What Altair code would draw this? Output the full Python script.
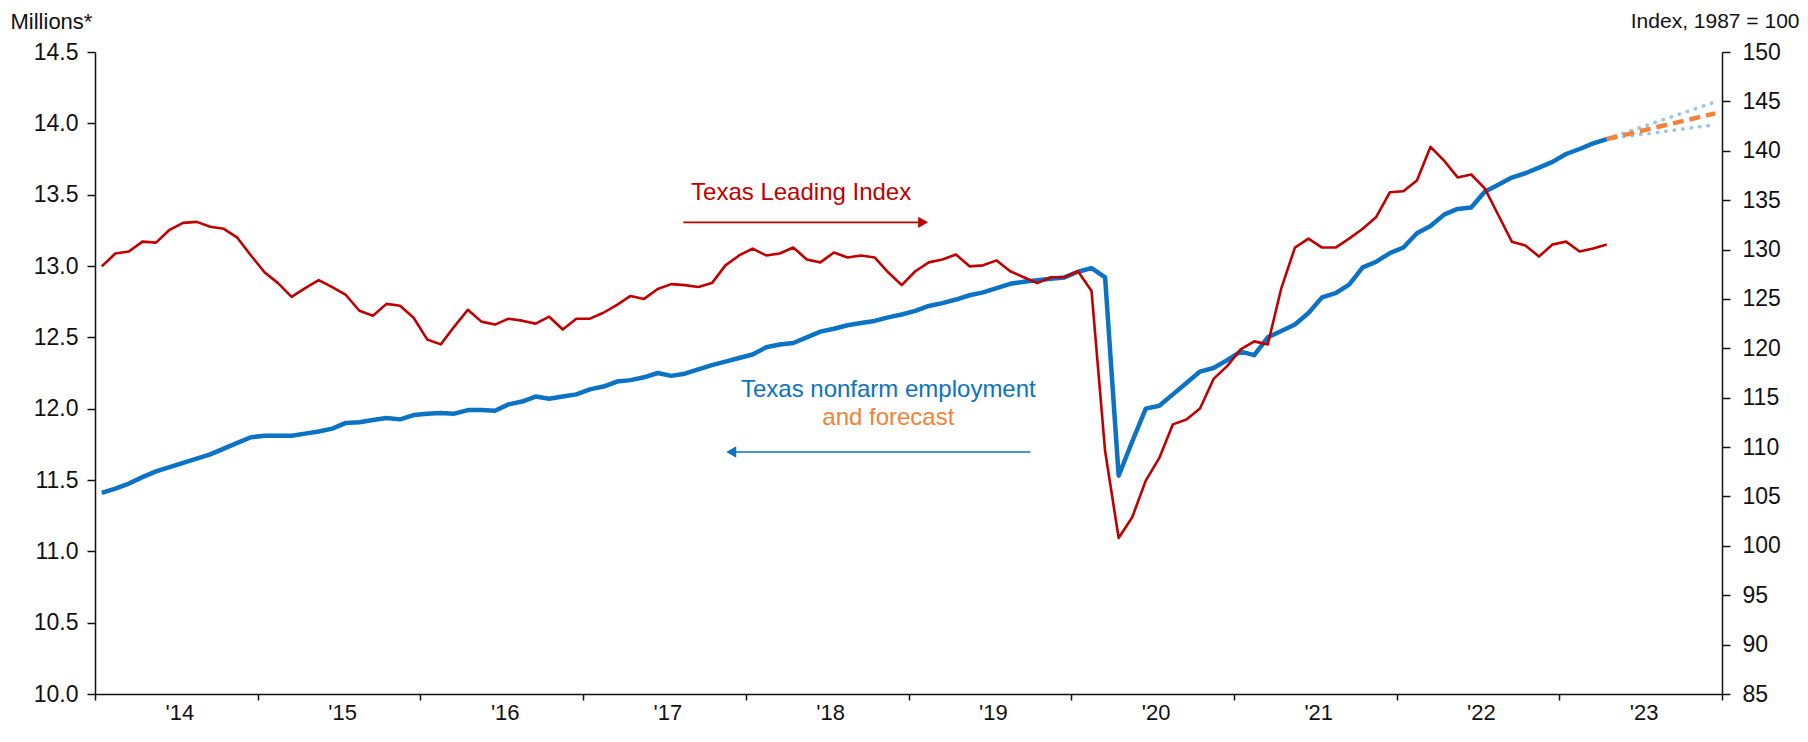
import altair as alt
import pandas as pd

# ---------------- data ----------------
# Texas nonfarm employment, millions, Jan 2014 .. Apr 2023 (monthly)
emp = [
    11.41, 11.44, 11.475, 11.52, 11.56, 11.59, 11.62, 11.65, 11.68, 11.72, 11.76, 11.80,
    11.81, 11.81, 11.81, 11.825, 11.84, 11.86, 11.90, 11.905, 11.92, 11.935, 11.925, 11.955,
    11.965, 11.97, 11.965, 11.99, 11.99, 11.985, 12.03, 12.05, 12.085, 12.07, 12.085, 12.10,
    12.135, 12.155, 12.19, 12.20, 12.22, 12.25, 12.23, 12.245, 12.275, 12.305, 12.33, 12.355,
    12.38, 12.43, 12.45, 12.46, 12.50, 12.54, 12.56, 12.585, 12.60, 12.615, 12.64, 12.66,
    12.685, 12.72, 12.74, 12.765, 12.795, 12.815, 12.845, 12.875, 12.89, 12.90, 12.91, 12.92,
    12.96, 12.985, 12.92, 11.53, 11.77, 12.00, 12.02, 12.10, 12.18, 12.26, 12.285, 12.34,
    12.40, 12.375, 12.50, 12.545, 12.59, 12.67, 12.78, 12.81, 12.87, 12.99, 13.03, 13.09,
    13.13, 13.23, 13.28, 13.36, 13.40, 13.41, 13.52, 13.57, 13.62, 13.65, 13.69, 13.73,
    13.785, 13.82, 13.86, 13.89,
]
# Texas Leading Index, 1987 = 100, Jan 2014 .. Apr 2023 (monthly)
tli = [
    128.3, 129.6, 129.8, 130.8, 130.7, 132.0, 132.7, 132.8, 132.3, 132.1, 131.2, 129.4,
    127.7, 126.6, 125.2, 126.1, 126.9, 126.2, 125.4, 123.8, 123.3, 124.5, 124.3, 123.1,
    120.9, 120.4, 122.2, 123.9, 122.7, 122.4, 123.0, 122.8, 122.5, 123.2, 121.9, 123.0,
    123.0, 123.6, 124.4, 125.3, 125.0, 126.0, 126.5, 126.4, 126.2, 126.6, 128.4, 129.4,
    130.1, 129.4, 129.6, 130.2, 129.0, 128.7, 129.7, 129.2, 129.4, 129.2, 127.7, 126.4,
    127.8, 128.7, 129.0, 129.5, 128.3, 128.4, 128.9, 127.8, 127.2, 126.6, 127.2, 127.2,
    127.8, 125.8, 109.6, 100.8, 102.9, 106.6, 108.9, 112.3, 112.8, 113.9, 116.9, 118.2,
    119.9, 120.7, 120.4, 126.1, 130.2, 131.1, 130.2, 130.2, 131.1, 132.1, 133.3, 135.8,
    135.9, 137.0, 140.4, 139.0, 137.3, 137.6, 136.2, 133.5, 130.8, 130.4, 129.3, 130.5,
    130.8, 129.8, 130.1, 130.5,
]
# Employment forecast (start / end) with band
fc_month = ["2023-04", "2023-12"]
fc_mid = [13.89, 14.07]
fc_hi = [13.89, 14.15]
fc_lo = [13.89, 13.99]

year_ticks = list(range(2014, 2025))
left_ticks = [10.0, 10.5, 11.0, 11.5, 12.0, 12.5, 13.0, 13.5, 14.0, 14.5]
right_ticks = list(range(85, 151, 5))

# ---------------- styling ----------------
FONT = "Liberation Sans"
RED = "#C00000"
BLUE = "#0B72C4"
ORANGE = "#F0823A"
LIGHTBLUE = "#9CC3E5"
INK = "#111111"

W, H = 1627, 642
TICK_FS = 23
ANN_FS = 24


def dec_year(ts):
    return ts.year + (ts.month - 0.5) / 12.0


months = pd.date_range("2014-01-01", periods=len(emp), freq="MS")
df = pd.DataFrame({"t": [dec_year(m) for m in months], "emp": emp, "tli": tli})
fc = pd.DataFrame({
    "t": [dec_year(pd.Timestamp(m + "-01")) for m in fc_month],
    "mid": fc_mid, "hi": fc_hi, "lo": fc_lo,
})

# annotation placement (data coordinates)
labels = pd.DataFrame({
    "text": ["Texas Leading Index", "Texas nonfarm employment", "and forecast"],
    "t": [2018.34, 2018.876, 2018.876],
    "v": [13.51, 12.131, 11.938],
    "c": [RED, BLUE, ORANGE],
})
arrows = pd.DataFrame({
    "t": [2017.616, 2017.911],
    "t2": [2019.090, 2019.749],
    "v": [13.306, 11.696],
    "c": [RED, BLUE],
})
heads = pd.DataFrame({
    "t": [2019.090, 2017.911],
    "v": [13.306, 11.696],
    "shape": ["triangle-right", "triangle-left"],
    "c": [RED, BLUE],
})

x_axis = alt.Axis(
    values=year_ticks,
    labelExpr="datum.value < 2024 ? \"'\" + substring(toString(datum.value), 2) : ''",
    labelOffset=W / 20.0 + 3,
    labelFlush=False,
    labelOverlap=False,
    tickSize=6,
    tickColor=INK,
    tickWidth=1.5,
    domainColor=INK,
    domainWidth=1.5,
    labelFont=FONT,
    labelFontSize=22,
    labelColor=INK,
    labelPadding=2,
    grid=False,
    title=None,
)
x_scale = alt.Scale(domain=[2014, 2024], nice=False, zero=False)


def X(field="t"):
    return alt.X(f"{field}:Q", scale=x_scale, axis=x_axis)


left_axis = alt.Axis(
    values=left_ticks,
    format=".1f",
    orient="left",
    tickSize=8,
    tickColor=INK,
    tickWidth=1.5,
    domainColor=INK,
    domainWidth=1.5,
    labelFont=FONT,
    labelFontSize=TICK_FS,
    labelColor=INK,
    labelPadding=9,
    grid=False,
    title="Millions*",
    titleAngle=0,
    titleX=-85,
    titleY=-31,
    titleAlign="left",
    titleBaseline="middle",
    titleFont=FONT,
    titleFontSize=22,
    titleFontWeight="normal",
    titleColor=INK,
)
left_scale = alt.Scale(domain=[10, 14.5], nice=False, zero=False)


def YL(field):
    return alt.Y(f"{field}:Q", scale=left_scale, axis=left_axis)


right_axis = alt.Axis(
    values=right_ticks,
    format="d",
    orient="right",
    tickSize=8,
    tickColor=INK,
    tickWidth=1.5,
    domainColor=INK,
    domainWidth=1.5,
    labelFont=FONT,
    labelFontSize=TICK_FS,
    labelColor=INK,
    labelPadding=12,
    grid=False,
    title="Index, 1987 = 100",
    titleAngle=0,
    titleX=77,
    titleY=-31,
    titleAlign="right",
    titleBaseline="middle",
    titleFont=FONT,
    titleFontSize=21,
    titleFontWeight="normal",
    titleColor=INK,
)
right_scale = alt.Scale(domain=[85, 150], nice=False, zero=False)

base_emp = alt.Chart(df)
base_fc = alt.Chart(fc)

emp_line = base_emp.mark_line(color=BLUE, strokeWidth=4.5, strokeJoin="round").encode(
    x=X(), y=YL("emp")
)
band_hi = base_fc.mark_line(color=LIGHTBLUE, strokeWidth=3.5, strokeDash=[0.5, 8], strokeCap="round").encode(
    x=X(), y=YL("hi")
)
band_lo = base_fc.mark_line(color=LIGHTBLUE, strokeWidth=3.5, strokeDash=[0.5, 8], strokeCap="round").encode(
    x=X(), y=YL("lo")
)
fc_line = base_fc.mark_line(color=ORANGE, strokeWidth=4.5, strokeDash=[11, 6]).encode(
    x=X(), y=YL("mid")
)
text_layer = alt.Chart(labels).mark_text(
    font=FONT, fontSize=ANN_FS, align="center", baseline="middle"
).encode(x=X(), y=YL("v"), text="text:N", color=alt.Color("c:N", scale=None))
arrow_lines = alt.Chart(arrows).mark_rule(strokeWidth=1.6).encode(
    x=X(), x2="t2:Q", y=YL("v"), color=alt.Color("c:N", scale=None)
)
arrow_heads = alt.Chart(heads).mark_point(filled=True, size=130, opacity=1, strokeWidth=0).encode(
    x=X(), y=YL("v"), shape=alt.Shape("shape:N", scale=None), color=alt.Color("c:N", scale=None)
)

left_layer = alt.layer(band_hi, band_lo, emp_line, fc_line, arrow_lines, arrow_heads, text_layer)

tli_line = base_emp.mark_line(color=RED, strokeWidth=2.6, strokeJoin="round").encode(
    x=X(), y=alt.Y("tli:Q", scale=right_scale, axis=right_axis)
)

chart = (
    alt.layer(left_layer, tli_line)
    .resolve_scale(y="independent")
    .properties(
        width=W,
        height=H,
        autosize=alt.AutoSizeParams(type="none"),
        padding={"left": 87, "top": 44, "right": 78, "bottom": 32},
        background="white",
    )
    .configure_view(stroke=None)
)

chart.save("out.html", embed_options={"renderer": "svg", "actions": False})
